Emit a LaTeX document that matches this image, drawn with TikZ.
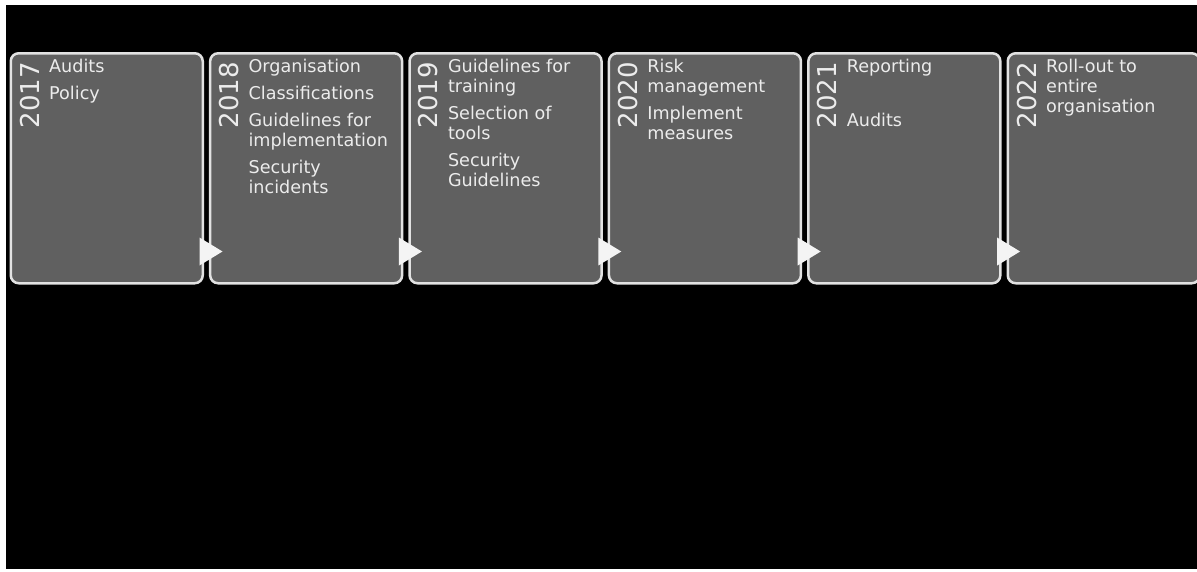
\documentclass[tikz,border=0pt]{standalone}
\usepackage{fontspec}
\setmainfont{DejaVu Sans}
\usetikzlibrary{calc}

\definecolor{panelfill}{RGB}{96,96,96}
\definecolor{panelline}{RGB}{226,226,226}
\definecolor{paneltext}{RGB}{236,236,236}
\definecolor{tipfill}{RGB}{244,244,244}

\tikzset{
  panel/.style={draw=panelline, fill=panelfill, line width=2.5pt,
    rounded corners=8pt, minimum width=192pt, minimum height=230pt,
    inner sep=0pt, anchor=north west},
  yearlabel/.style={rotate=90, anchor=base east, inner sep=0pt,
    text=paneltext, font=\fontsize{26}{30}\selectfont},
  itemlist/.style={anchor=base west, inner sep=0pt, align=left,
    text=paneltext, font=\fontsize{17.6}{20}\selectfont},
  steptip/.style={fill=tipfill, draw=none}
}

% one tabular per panel: baseline of the first line, 20pt per line,
% 7pt extra between entries
\newcommand{\entries}[1]{\begin{tabular}[t]{@{}l@{}}#1\end{tabular}}

\begin{document}
\begin{tikzpicture}[x=1pt, y=1pt]
  \useasboundingbox (0,0) rectangle (1197,-571);
  \fill[white] (0,0) rectangle (1197,-571);
  \fill[black] (6,-5) rectangle (1197,-569);

  % timeline panels
  \foreach \i in {0,...,5} {
    \node[panel] (b\i) at ({9.5+199.4*\i},-52) {};
  }

  % years, written upwards along the left edge
  \foreach \i/\yr in {0/2017,1/2018,2/2019,3/2020,4/2021,5/2022} {
    \node[yearlabel] (y\i) at ($(b\i.north west)+(29.5,-10)$) {\yr};
  }

  % activities of each year
  \node[itemlist] (t0) at ($(b0.north west)+(39.5,-20)$)
    {\entries{Audits\\[7pt] Policy}};
  \node[itemlist] (t1) at ($(b1.north west)+(39.5,-20)$)
    {\entries{Organisation\\[7pt] Classifications\\[7pt] Guidelines for\\ implementation\\[7pt] Security\\ incidents}};
  \node[itemlist] (t2) at ($(b2.north west)+(39.5,-20)$)
    {\entries{Guidelines for\\ training\\[7pt] Selection of\\ tools\\[7pt] Security\\ Guidelines}};
  \node[itemlist] (t3) at ($(b3.north west)+(39.5,-20)$)
    {\entries{Risk\\ management\\[7pt] Implement\\ measures}};
  \node[itemlist] (t4) at ($(b4.north west)+(39.5,-20)$)
    {\entries{Reporting\\[7pt] \mbox{}\\[7pt] Audits}};
  \node[itemlist] (t5) at ($(b5.north west)+(39.5,-20)$)
    {\entries{Roll-out to\\ entire\\ organisation}};

  % arrow heads leading from one panel to the next
  \foreach \i in {0,...,4} {
    \fill[steptip] ($(b\i.south east)+(-4.5,19)$) -- ++(0,28) -- ++(23,-14) -- cycle;
  }
\end{tikzpicture}
\end{document}
